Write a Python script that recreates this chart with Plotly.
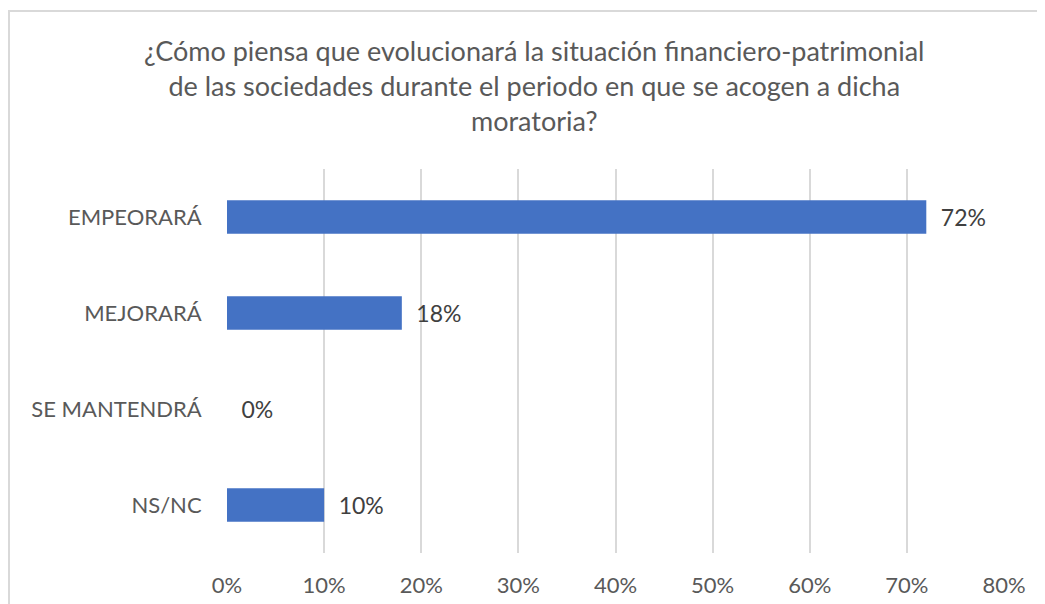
import plotly.graph_objects as go

categories = ["EMPEORARÁ", "MEJORARÁ", "SE MANTENDRÁ", "NS/NC"]
values = [0.72, 0.18, 0.0, 0.10]
labels = ["72%", "18%", "0%", "10%"]
tick_vals = [0, 0.1, 0.2, 0.3, 0.4, 0.5, 0.6, 0.7, 0.8]
tick_text = ["0%", "10%", "20%", "30%", "40%", "50%", "60%", "70%", "80%"]
title_text = ("¿Cómo piensa que evolucionará la situación financiero-patrimonial<br>"
              "de las sociedades durante el periodo en que se acogen a dicha<br>"
              "moratoria?")

FONT = "Lato, 'Open Sans', sans-serif"
OFF = 8  # default page body margin
W, H = 1045 - OFF, 604 - OFF
L, R, T, B = 227 - OFF, 41, 169 - OFF, 51
PW, PH = W - L - R, H - T - B

fig = go.Figure(go.Bar(
    x=values, y=categories, orientation="h",
    marker=dict(color="#4472C4", line=dict(width=0)),
    width=0.35,
    text=labels, texttemplate="\u2002%{text}", textposition="outside", cliponaxis=False,
    textfont=dict(family=FONT, size=23, color="#404040"),
))

fig.update_layout(
    width=W, height=H,
    margin=dict(l=L, r=R, t=T, b=B, autoexpand=False),
    paper_bgcolor="white", plot_bgcolor="white",
    showlegend=False,
    font=dict(family=FONT, color="#595959"),
    xaxis=dict(range=[0, 0.8], tickvals=tick_vals, ticktext=tick_text,
               showgrid=True, gridcolor="#D9D9D9", gridwidth=1.5,
               zeroline=False, showline=False,
               ticks="outside", ticklen=13, tickcolor="rgba(0,0,0,0)",
               tickfont=dict(family=FONT, size=22, color="#595959")),
    yaxis=dict(autorange="reversed", showgrid=False, zeroline=False, showline=False,
               ticks="outside", ticklen=20, tickcolor="rgba(0,0,0,0)",
               tickfont=dict(family=FONT, size=22, color="#595959")),
    annotations=[dict(text=title_text, xref="paper", yref="paper",
                      x=(534 - OFF - L) / PW, y=1 + (T - (32 - OFF)) / PH,
                      xanchor="center", yanchor="top", showarrow=False,
                      font=dict(family=FONT, size=27, color="#595959"),
                      align="center")],
    shapes=[dict(type="rect", xref="paper", yref="paper",
                 x0=-(L - 1) / PW, x1=1 + (R + 20) / PW,
                 y0=-(B + 20) / PH, y1=1 + (T - 3) / PH,
                 line=dict(color="#D9D9D9", width=2), layer="below")],
)

fig.write_html("out.html")
